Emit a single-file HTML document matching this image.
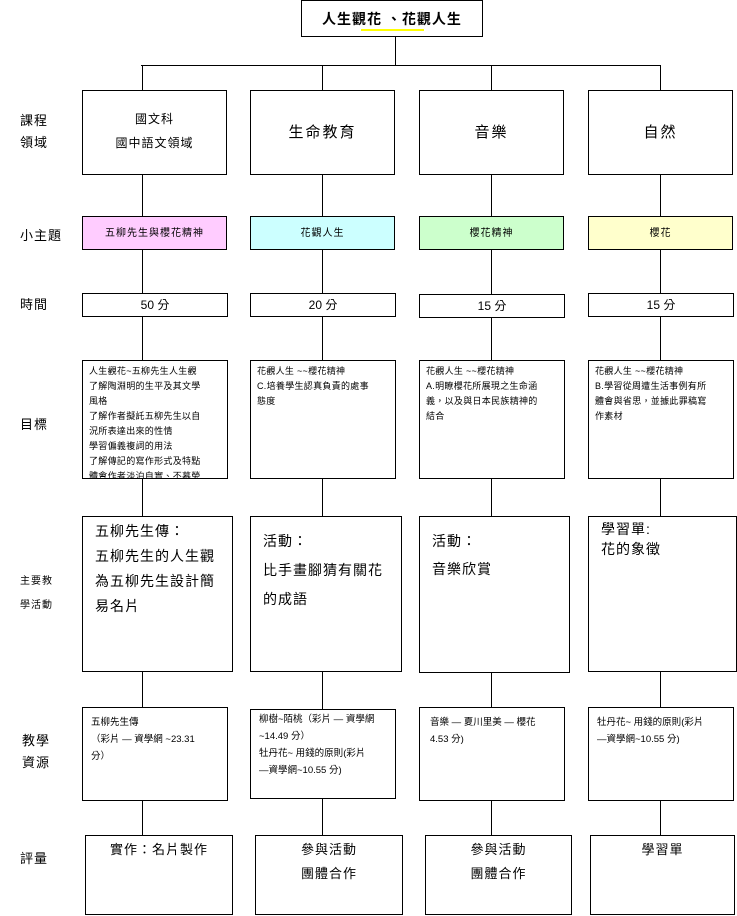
<!DOCTYPE html>
<html><head><meta charset="utf-8"><style>
body{margin:0;width:737px;height:916px;position:relative;background:#fff;overflow:hidden;font-family:"Liberation Sans","Noto Sans CJK TC",sans-serif;color:#000}
.b{position:absolute;border:1px solid #000;background:#fff;box-sizing:border-box}
.l{position:absolute;background:#000}
.t{position:absolute;font-size:13px;line-height:22px;letter-spacing:1px}
.c{text-align:center}
.s{font-size:9px;line-height:15px;padding:3px 0 0 6px;letter-spacing:0.3px}
.m{font-size:14px;line-height:26px;padding:0 0 0 12px;letter-spacing:1px}
.r{font-size:9.5px;line-height:17px;padding:6px 0 0 8px}
</style></head><body>
<div class="l" style="left:395px;top:36px;width:1px;height:29px"></div>
<div class="l" style="left:141px;top:65px;width:519px;height:1px"></div>
<div class="l" style="left:142px;top:65px;width:1px;height:770px"></div>
<div class="l" style="left:322px;top:65px;width:1px;height:770px"></div>
<div class="l" style="left:491px;top:65px;width:1px;height:770px"></div>
<div class="l" style="left:660px;top:65px;width:1px;height:770px"></div>

<div class="b c" style="left:301px;top:0;width:182px;height:37px;font-size:14px;font-weight:bold;line-height:36px;letter-spacing:1px">人生觀花 、花觀人生</div>
<div class="l" style="left:361px;top:29px;width:63px;height:2px;background:#ffff00"></div>

<div class="t" style="left:20px;top:110px">課程<br>領域</div>
<div class="t" style="left:20px;top:225px">小主題</div>
<div class="t" style="left:20px;top:294px">時間</div>
<div class="t" style="left:20px;top:414px">目標</div>
<div class="t" style="left:20px;top:570px;font-size:10px;line-height:24px">主要教<br>學活動</div>
<div class="t" style="left:22px;top:730px">教學<br>資源</div>
<div class="t" style="left:20px;top:848px">評量</div>

<div class="b c" style="left:82px;top:90px;width:145px;height:85px;font-size:12px;line-height:24px;padding-top:16px;letter-spacing:1px">國文科<br>國中語文領域</div>
<div class="b c" style="left:250px;top:90px;width:145px;height:85px;font-size:15px;line-height:84px;letter-spacing:2px">生命教育</div>
<div class="b c" style="left:419px;top:90px;width:145px;height:85px;font-size:15px;line-height:84px;letter-spacing:2px">音樂</div>
<div class="b c" style="left:588px;top:90px;width:145px;height:85px;font-size:15px;line-height:84px;letter-spacing:2px">自然</div>

<div class="b c" style="left:82px;top:216px;width:145px;height:34px;background:#ffccff;font-size:10px;line-height:33px;letter-spacing:1px">五柳先生與櫻花精神</div>
<div class="b c" style="left:250px;top:216px;width:145px;height:34px;background:#ccffff;font-size:10px;line-height:33px;letter-spacing:1px">花觀人生</div>
<div class="b c" style="left:419px;top:216px;width:145px;height:34px;background:#ccffcc;font-size:10px;line-height:33px;letter-spacing:1px">櫻花精神</div>
<div class="b c" style="left:588px;top:216px;width:145px;height:34px;background:#ffffcc;font-size:10px;line-height:33px;letter-spacing:1px">櫻花</div>

<div class="b c" style="left:82px;top:293px;width:146px;height:24px;font-size:12px;line-height:23px">50 分</div>
<div class="b c" style="left:250px;top:293px;width:146px;height:24px;font-size:12px;line-height:23px">20 分</div>
<div class="b c" style="left:419px;top:294px;width:146px;height:24px;font-size:12px;line-height:23px">15 分</div>
<div class="b c" style="left:588px;top:293px;width:146px;height:24px;font-size:12px;line-height:23px">15 分</div>

<div class="b s" style="left:82px;top:360px;width:146px;height:119px;overflow:hidden">人生觀花~五柳先生人生觀<br>了解陶淵明的生平及其文學<br>風格<br>了解作者擬託五柳先生以自<br>況所表達出來的性情<br>學習偏義複詞的用法<br>了解傳記的寫作形式及特點<br>體會作者淡泊自實、不慕榮</div>
<div class="b s" style="left:250px;top:360px;width:146px;height:119px">花觀人生 ~~櫻花精神<br>C.培養學生認真負責的處事<br>態度</div>
<div class="b s" style="left:419px;top:360px;width:146px;height:119px">花觀人生 ~~櫻花精神<br>A.明瞭櫻花所展現之生命涵<br>義，以及與日本民族精神的<br>結合</div>
<div class="b s" style="left:588px;top:360px;width:146px;height:119px">花觀人生 ~~櫻花精神<br>B.學習從周遭生活事例有所<br>體會與省思，並據此罪稿寫<br>作素材</div>

<div class="b m" style="left:82px;top:516px;width:151px;height:156px;padding-top:2px;line-height:25px">五柳先生傳：<br>五柳先生的人生觀<br>為五柳先生設計簡<br>易名片</div>
<div class="b m" style="left:250px;top:516px;width:152px;height:156px;padding-top:10px;line-height:29px">活動：<br>比手畫腳猜有關花<br>的成語</div>
<div class="b m" style="left:419px;top:516px;width:151px;height:157px;padding-top:10px;line-height:28px">活動：<br>音樂欣賞</div>
<div class="b m" style="left:588px;top:516px;width:149px;height:156px;padding-top:2px;line-height:20px">學習單:<br>花的象徵</div>

<div class="b r" style="left:82px;top:707px;width:146px;height:94px">五柳先生傳<br>（彩片 — 資學網 ~23.31<br>分）</div>
<div class="b r" style="left:250px;top:709px;width:146px;height:90px;padding-top:1px">柳樹~陌桃（彩片 — 資學網<br>~14.49 分）<br>牡丹花~ 用錢的原則(彩片<br>—資學網~10.55 分)</div>
<div class="b r" style="left:419px;top:707px;width:146px;height:94px;padding-left:10px">音樂 — 夏川里美 — 櫻花<br>4.53 分)</div>
<div class="b r" style="left:588px;top:707px;width:146px;height:94px">牡丹花~ 用錢的原則(彩片<br>—資學網~10.55 分)</div>

<div class="b c" style="left:85px;top:835px;width:148px;height:80px;font-size:13px;line-height:24px;padding-top:2px;letter-spacing:1px">實作：名片製作</div>
<div class="b c" style="left:255px;top:835px;width:148px;height:80px;font-size:13px;line-height:24px;padding-top:2px;letter-spacing:1px">參與活動<br>團體合作</div>
<div class="b c" style="left:425px;top:835px;width:147px;height:80px;font-size:13px;line-height:24px;padding-top:2px;letter-spacing:1px">參與活動<br>團體合作</div>
<div class="b c" style="left:590px;top:835px;width:145px;height:80px;font-size:13px;line-height:24px;padding-top:2px;letter-spacing:1px">學習單</div>
</body></html>
